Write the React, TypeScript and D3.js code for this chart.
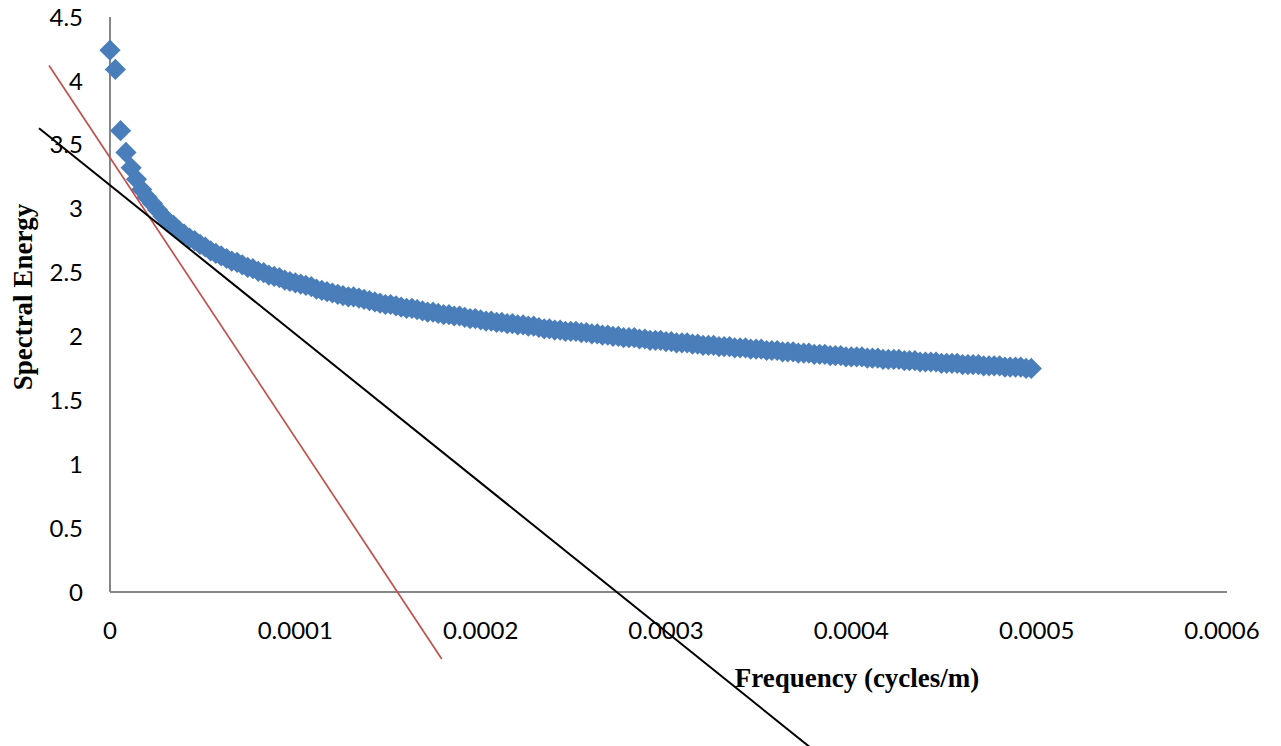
import * as d3 from 'd3';

// frequency in micro-cycles/m (×1e-6), one row per 7 samples
const freqMicro = [
  0, 2.9, 5.7, 8.6, 11.4, 14.3, 17.1,
  20, 22.9, 25.7, 28.6, 31.4, 34.3, 37.1,
  40, 42.9, 45.7, 48.6, 51.4, 54.3, 57.1,
  60, 62.9, 65.7, 68.6, 71.4, 74.3, 77.1,
  80, 82.9, 85.7, 88.6, 91.4, 94.3, 97.1,
  100, 102.9, 105.7, 108.6, 111.4, 114.3, 117.1,
  120, 122.9, 125.7, 128.6, 131.4, 134.3, 137.1,
  140, 142.9, 145.7, 148.6, 151.4, 154.3, 157.1,
  160, 162.9, 165.7, 168.6, 171.4, 174.3, 177.1,
  180, 182.9, 185.7, 188.6, 191.4, 194.3, 197.1,
  200, 202.9, 205.7, 208.6, 211.4, 214.3, 217.1,
  220, 222.9, 225.7, 228.6, 231.4, 234.3, 237.1,
  240, 242.9, 245.7, 248.6, 251.4, 254.3, 257.1,
  260, 262.9, 265.7, 268.6, 271.4, 274.3, 277.1,
  280, 282.9, 285.7, 288.6, 291.4, 294.3, 297.1,
  300, 302.9, 305.7, 308.6, 311.4, 314.3, 317.1,
  320, 322.9, 325.7, 328.6, 331.4, 334.3, 337.1,
  340, 342.9, 345.7, 348.6, 351.4, 354.3, 357.1,
  360, 362.9, 365.7, 368.6, 371.4, 374.3, 377.1,
  380, 382.9, 385.7, 388.6, 391.4, 394.3, 397.1,
  400, 402.9, 405.7, 408.6, 411.4, 414.3, 417.1,
  420, 422.9, 425.7, 428.6, 431.4, 434.3, 437.1,
  440, 442.9, 445.7, 448.6, 451.4, 454.3, 457.1,
  460, 462.9, 465.7, 468.6, 471.4, 474.3, 477.1,
  480, 482.9, 485.7, 488.6, 491.4, 494.3, 497.1,
];

const energy = [
  4.24, 4.09, 3.61, 3.44, 3.32, 3.23, 3.15,
  3.09, 3.04, 2.99, 2.94, 2.90, 2.87, 2.83,
  2.80, 2.77, 2.75, 2.72, 2.70, 2.67, 2.65,
  2.63, 2.61, 2.59, 2.58, 2.56, 2.54, 2.53,
  2.51, 2.50, 2.48, 2.47, 2.46, 2.44, 2.43,
  2.42, 2.41, 2.40, 2.39, 2.37, 2.36, 2.35,
  2.34, 2.33, 2.32, 2.31, 2.31, 2.30, 2.29,
  2.28, 2.27, 2.26, 2.25, 2.25, 2.24, 2.23,
  2.22, 2.22, 2.21, 2.20, 2.19, 2.19, 2.18,
  2.17, 2.17, 2.16, 2.16, 2.15, 2.14, 2.14,
  2.13, 2.12, 2.12, 2.11, 2.11, 2.10, 2.10,
  2.09, 2.09, 2.08, 2.08, 2.07, 2.06, 2.06,
  2.05, 2.05, 2.04, 2.04, 2.04, 2.03, 2.03,
  2.02, 2.02, 2.01, 2.01, 2.00, 2.00, 1.99,
  1.99, 1.99, 1.98, 1.98, 1.97, 1.97, 1.97,
  1.96, 1.96, 1.95, 1.95, 1.95, 1.94, 1.94,
  1.93, 1.93, 1.93, 1.92, 1.92, 1.92, 1.91,
  1.91, 1.91, 1.90, 1.90, 1.90, 1.89, 1.89,
  1.89, 1.88, 1.88, 1.88, 1.87, 1.87, 1.87,
  1.86, 1.86, 1.86, 1.85, 1.85, 1.85, 1.84,
  1.84, 1.84, 1.84, 1.83, 1.83, 1.83, 1.82,
  1.82, 1.82, 1.82, 1.81, 1.81, 1.81, 1.80,
  1.80, 1.80, 1.80, 1.79, 1.79, 1.79, 1.79,
  1.78, 1.78, 1.78, 1.78, 1.77, 1.77, 1.77,
  1.77, 1.76, 1.76, 1.76, 1.76, 1.75, 1.75,
];

// hand-drawn fit lines: [x1, y1, x2, y2] in data units
const redLine = [-0.0000329, 4.12, 0.000179, -0.524];
const blackLine = [-0.0000383, 3.63, 0.000385, -1.3];

const xTicks = [0, 0.0001, 0.0002, 0.0003, 0.0004, 0.0005, 0.0006];
const xTickLabels = ['0', '0.0001', '0.0002', '0.0003', '0.0004', '0.0005', '0.0006'];
const yTicks = [0, 0.5, 1, 1.5, 2, 2.5, 3, 3.5, 4, 4.5];
const yTickLabels = ['0', '0.5', '1', '1.5', '2', '2.5', '3', '3.5', '4', '4.5'];

const W = 1281;
const H = 746;
const tickFont = 'Lato, "Open Sans", sans-serif';
const titleFont = '"Liberation Serif", "Times New Roman", serif';

export default function App() {
  const x = d3.scaleLinear().domain([0, 0.0006]).range([110, 1222]);
  const y = d3.scaleLinear().domain([0, 4.5]).range([592, 17]);

  const pts = freqMicro.map((f, i) => ({ f: f * 1e-6, e: energy[i] }));
  const r = 10.6;
  const diamond = `M0,${-r}L${r},0L0,${r}L${-r},0Z`;

  return (
    <div>
      <style>{`body{margin:0;background:#fff}`}</style>
      <svg width={W} height={H} style={{ display: 'block', overflow: 'hidden' }}>
        <rect width={W} height={H} fill="#fff" />
        {/* axes */}
        <line x1={x(0)} x2={x(0)} y1={y(0)} y2={y(4.5)} stroke="#868686" strokeWidth={2} />
        <line x1={x(0)} x2={x(0.0006) + 5} y1={y(0)} y2={y(0)} stroke="#868686" strokeWidth={2} />

        {/* y tick labels */}
        {yTicks.map((t, i) => (
          <text key={'y' + i} x={83} y={y(t)} dy="0.36em" textAnchor="end"
            fontFamily={tickFont} fontSize={24} fill="#000">{yTickLabels[i]}</text>
        ))}
        {/* x tick labels */}
        {xTicks.map((t, i) => (
          <text key={'x' + i} x={x(t)} y={639} textAnchor="middle"
            fontFamily={tickFont} fontSize={24} fill="#000">{xTickLabels[i]}</text>
        ))}

        {/* markers */}
        <g fill="#4a7ebb">
          {pts.map((p, i) => (
            <path key={i} d={diamond} transform={`translate(${x(p.f)},${y(p.e)})`} />
          ))}
        </g>

        {/* fit lines */}
        <line x1={x(redLine[0])} y1={y(redLine[1])} x2={x(redLine[2])} y2={y(redLine[3])}
          stroke="#c0504d" strokeWidth={1.7} />
        <line x1={x(blackLine[0])} y1={y(blackLine[1])} x2={x(blackLine[2])} y2={y(blackLine[3])}
          stroke="#000" strokeWidth={2} />

        {/* axis titles */}
        <text x={857} y={687} textAnchor="middle" fontFamily={titleFont} fontWeight="bold"
          fontSize={27} fill="#000">Frequency (cycles/m)</text>
        <text transform="translate(32,297) rotate(-90)" textAnchor="middle" fontFamily={titleFont}
          fontWeight="bold" fontSize={27} fill="#000">Spectral Energy</text>
      </svg>
    </div>
  );
}
